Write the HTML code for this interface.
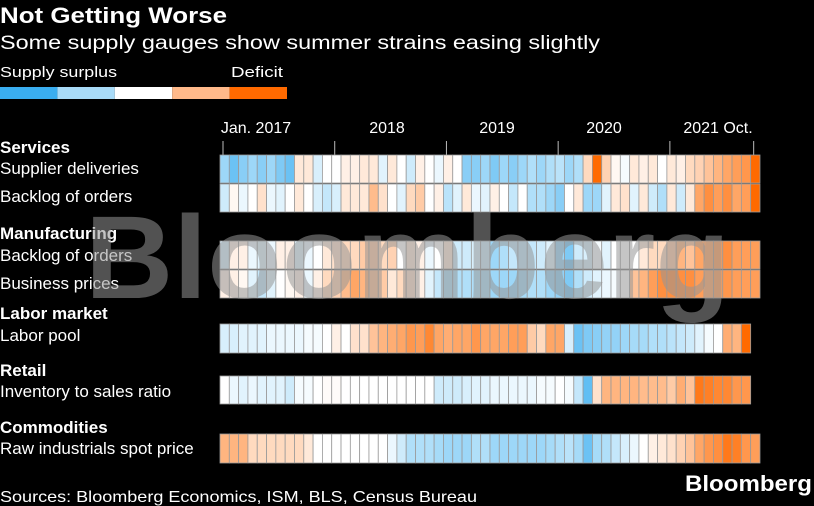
<!DOCTYPE html>
<html><head><meta charset="utf-8"><style>
body{margin:0;background:#000;width:814px;height:506px;overflow:hidden;font-family:"Liberation Sans",sans-serif;color:#fff}
svg{position:absolute;left:0;top:0}
</style></head><body>
<svg width="814" height="506" id="chart">
<text x="0" y="23" font-size="22" font-weight="bold" fill="#fff" textLength="227" lengthAdjust="spacingAndGlyphs">Not Getting Worse</text>
<text x="0" y="49" font-size="19" fill="#fff" textLength="600" lengthAdjust="spacingAndGlyphs">Some supply gauges show summer strains easing slightly</text>
<text x="0" y="77" font-size="15" fill="#fff" textLength="117" lengthAdjust="spacingAndGlyphs">Supply surplus</text>
<text x="231" y="77" font-size="15" fill="#fff" textLength="52" lengthAdjust="spacingAndGlyphs">Deficit</text>
<g id="legend"></g>
<g id="axis"></g>
<g id="labels"></g>
<g id="cells"></g>
<text x="85" y="298" font-size="118" font-weight="bold" fill="rgba(150,150,150,0.55)" textLength="645" lengthAdjust="spacingAndGlyphs">Bloomberg</text>
<text x="0" y="502" font-size="16" fill="#fff" textLength="477" lengthAdjust="spacingAndGlyphs">Sources: Bloomberg Economics, ISM, BLS, Census Bureau</text>
<text x="685" y="491" font-size="22" font-weight="bold" fill="#fff" textLength="127" lengthAdjust="spacingAndGlyphs">Bloomberg</text>
</svg>
<script>
const rowNames = ["Supplier deliveries","Backlog of orders","Backlog of orders","Business prices","Labor pool","Inventory to sales ratio","Raw industrials spot price"];
const groupNames = ["Services","Manufacturing","Labor market","Retail","Commodities"];
const tickLabels = ["Jan. 2017","2018","2019","2020","2021 Oct."];
const tickMonths = [0,12,24,36,48,57];
const supplierDeliveries = [-1,-1.5,-1.2,-1,-1.2,-1,-1.3,-1.5,0.3,0.3,-0.4,0,0,0.2,0.2,0.3,0.3,-0.3,0.3,0,-0.5,0.2,0,-0.2,0.2,0,-1.2,-1.2,-1,-1.3,-1,-1.2,-1,-0.8,-1,-0.8,-0.7,-1,-0.8,0.5,2,0.6,0.1,-0.1,0.3,0.2,0.3,0,0.3,0.2,0.5,0.6,0.8,1,1.2,1.3,1.4,2];
const servicesBacklog = [-0.5,0.1,-0.2,0,0.4,-0.2,-0.3,0,0.3,0,-0.4,-0.6,-0.4,0.3,0.3,0.3,0.9,0.4,0,-0.3,0.5,0.7,0,0.2,-0.7,-0.3,0.3,-0.2,-0.3,0.2,0,-0.6,0,-0.8,-0.8,-1,-1.2,0,0.3,-1,-1,-0.3,0.3,0.4,-0.3,0.3,-0.5,-0.8,0.3,-0.5,0.3,1.2,1.5,1.3,1.5,1.2,1.3,2];
const mfgBacklog = [-0.4,0.2,0.2,-0.2,-0.3,-0.2,0.2,0.2,-0.3,-0.2,0,0.3,0.4,0.5,0.5,0.7,0.7,0.5,0.6,0,0.3,0.2,-0.2,0,0.3,-0.5,-0.5,-0.4,-0.5,-1,-0.8,-0.6,-0.6,-0.6,-0.5,-0.3,-1,-1.3,-0.5,-0.4,-0.1,-0.3,0,0,0,0.3,0.5,0.5,0.7,1,0.8,1.2,1.2,1.3,1.5,1.3,1.3,1.3];
const businessPrices = [0.2,0.2,0.1,-0.3,-0.6,-0.3,0,0.1,0.2,-0.2,0.2,0.5,0.6,0.9,1.2,1,0.8,0.7,0.3,0.5,0.4,0.2,-0.3,-0.6,-0.8,-0.8,-0.8,-0.8,-0.8,-1,-1,-1,-0.9,-0.8,-0.8,-1,-1.1,-1.3,-0.8,-0.5,-0.3,-0.2,-0.1,0,0.8,1,1.3,1.5,1.5,1.5,1.5,1.3,1.2,1.3,1.4,1.3,1.3,1.3];
const laborPool = [-0.4,-0.4,-0.3,-0.3,-0.3,-0.2,-0.2,-0.2,-0.2,-0.1,-0.1,0,0.2,0,0.4,0.4,0.8,1,1.1,1.2,1.4,1.3,1.6,1.2,1.1,1.2,1.2,1.4,1.2,1.2,1.2,1.3,1.3,0.7,0.5,1.2,1.2,-0.4,-1.5,-1.3,-1.2,-1.1,-1.1,-1,-0.9,-0.9,-0.8,-0.8,-0.7,-0.6,-0.5,-0.3,-0.1,0,1.1,1,2];
const inventorySales = [0,-0.2,-0.3,-0.2,-0.3,-0.3,-0.3,-0.5,-0.1,-0.1,0,0.05,0.05,0,0,0,0,0,0,0,0,0,0,-0.5,-0.5,-0.5,-0.4,-0.3,-0.3,-0.2,-0.2,-0.2,-0.2,-0.2,-0.1,-0.1,0,-0.1,-0.6,-1.6,0.4,1,1,1,1,0.9,0.9,0.9,0.7,1.1,0.8,1.8,1.7,1.6,1.6,1.4,1.4];
const rawIndustrials = [1,1,1,0.5,0.5,0.5,0.5,0.5,0.5,0.3,0,0,0,0,0,0,0,0,-0.2,-0.5,-0.8,-0.8,-0.8,-0.9,-1,-1,-1,-0.8,-0.8,-1,-1,-1,-1,-1,-1,-0.9,-0.8,-0.7,-0.9,-1.5,-0.9,-0.8,-0.6,-0.4,-0.2,0,0.2,0.3,0.4,0.6,0.8,1.2,1.4,1.5,1.8,1.7,1.4,1.3];

const NS="http://www.w3.org/2000/svg";
const X0=220, CW=9.31;
function xScale(i){return X0+i*CW;}
function color(v){
  v=Math.max(-2,Math.min(2,v))/2;
  const b=[58,174,240], o=[255,106,0];
  const t=Math.abs(v), c=v<0?b:o;
  const r=c.map(k=>Math.round(255+(k-255)*t));
  return `rgb(${r[0]},${r[1]},${r[2]})`;
}
function mk(tag,attrs,parent){const e=document.createElementNS(NS,tag);for(const k in attrs)e.setAttribute(k,attrs[k]);parent.appendChild(e);return e;}

const leg=document.getElementById('legend');
const legCols=["#3aaef0","#a8dbf8","#ffffff","#ffb98a","#ff6a00"];
legCols.forEach((c,i)=>{const r=mk('rect',{x:i*57.4,y:87,width:57.4,height:12,fill:c},leg);

});

const ax=document.getElementById('axis');
tickMonths.forEach(m=>{const l=mk('line',{x1:xScale(m)+3,x2:xScale(m)+3,y1:141,y2:155,stroke:'#bbb','stroke-width':1},ax);

});
const labX=[256,387,497,604,718];
tickLabels.forEach((t,i)=>{const e=mk('text',{x:labX[i],y:133,'font-size':16,fill:'#fff','text-anchor':'middle'},ax);e.textContent=t;

});

const lab=document.getElementById('labels');
const groupY=[153,239,319,376,433];
groupNames.forEach((g,i)=>{const e=mk('text',{x:0,y:groupY[i],'font-size':17,'font-weight':'bold',fill:'#fff'},lab);e.textContent=g;

});
const rowLabelY=[174,202,261,289,341,397,454];
rowNames.forEach((n,i)=>{const e=mk('text',{x:0,y:rowLabelY[i],'font-size':17,fill:'#fff'},lab);e.textContent=n;

});

const series=[supplierDeliveries,servicesBacklog,mfgBacklog,businessPrices,laborPool,inventorySales,rawIndustrials];
const rowTop=[155,184,241,270,324,376,434];
const rowH=[28,28,28,28,29,28,29];
const cg=document.getElementById('cells');
series.forEach((s,r)=>{
  s.forEach((v,i)=>{
    const c=mk('rect',{x:xScale(i),y:rowTop[r],width:CW,height:rowH[r],fill:color(v),stroke:'#9a9a9a','stroke-width':0.8},cg);
    
    
  });
});
</script>
</body></html>
